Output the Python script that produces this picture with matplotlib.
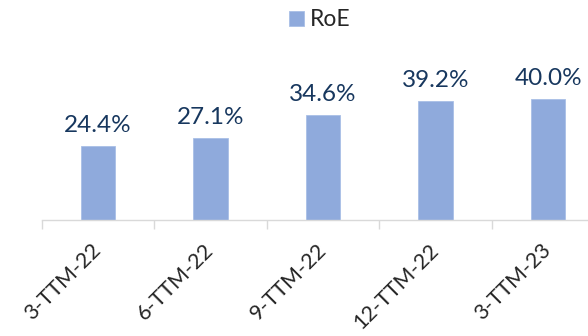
import matplotlib
matplotlib.use("Agg")
import matplotlib.pyplot as plt
import numpy as np

# Return on equity by trailing-twelve-month period
periods = ["3-TTM-22", "6-TTM-22", "9-TTM-22", "12-TTM-22", "3-TTM-23"]
roe = [24.4, 27.1, 34.6, 39.2, 40.0]
series_name = "RoE"

plt.rcParams["font.family"] = ["Lato", "DejaVu Sans"]

bar_color = "#8FAADC"
label_color = "#17375E"
text_color = "#262626"
axis_color = "#D9D9D9"

fig = plt.figure(figsize=(5.88, 3.36), dpi=100)
ax = fig.add_axes([41.7 / 588, (336 - 220) / 336, 562.6 / 588, 136.4 / 336])

x = np.arange(len(periods))
bars = ax.bar(x, roe, width=0.31, color=bar_color, edgecolor="#A9BFE6",
              linewidth=0.6, label=series_name, zorder=2)

for xi, v in zip(x, roe):
    ax.annotate(f"{v:.1f}%", (xi, v), xytext=(0, 10), textcoords="offset points",
                ha="center", va="baseline", fontsize=17.5, color=label_color)

ax.set_xlim(-0.5, len(periods) - 0.5)
ax.set_ylim(0, 45)

# category labels centred on bars, tick marks between categories
ax.set_xticks(x)
ax.set_xticklabels(periods, rotation=45, ha="right", va="center",
                   rotation_mode="anchor", fontsize=15.5, color=text_color)
ax.tick_params(axis="x", which="major", length=0, pad=19.5)
ax.set_xticks(np.arange(-0.5, len(periods) + 0.5, 1.0), minor=True)
ax.tick_params(axis="x", which="minor", length=6.5, width=1.0, color=axis_color)

ax.set_yticks([])
for side in ["left", "right", "top"]:
    ax.spines[side].set_visible(False)
ax.spines["bottom"].set_color(axis_color)
ax.spines["bottom"].set_linewidth(1.0)

fig.legend(handles=[bars], labels=[series_name], loc="center",
           bbox_to_anchor=(320 / 588, 1 - 20 / 336), frameon=False,
           fontsize=16.5, labelcolor=text_color, handlelength=0.65,
           handleheight=0.65, handletextpad=0.25)

fig.savefig("out.png", dpi=100)
